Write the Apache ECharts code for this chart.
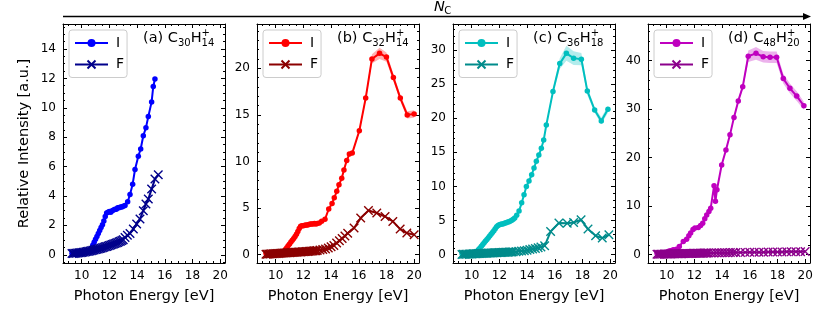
<!DOCTYPE html>
<html><head><meta charset="utf-8">
<script src="https://cdn.jsdelivr.net/npm/echarts@6/dist/echarts.min.js"></script>
<style>html,body{margin:0;padding:0;background:#fff}#c{width:831px;height:312px}</style>
</head><body><div id="c"></div>
<script>
// ---------- DATA ----------
const xTicks = [10, 12, 14, 16, 18, 20];
const eLow = [9.3,9.4,9.5,9.6,9.7,9.8,9.9,10.0,10.1,10.2,10.3,10.4,10.5,10.6,10.7,10.8,10.9,11.0,11.1,11.2,11.3,11.4,11.5,11.6,11.7,11.8,11.9,12.0,12.1,12.2,12.3,12.4,12.5,12.6,12.7,12.8,12.9,13.0];

// (a) C30H14+
const eIaHi = [13.13,13.32,13.49,13.68,13.85,14.09,14.26,14.45,14.64,14.81,15.05,15.17,15.29];
const Ia = [.10,.10,.11,.12,.12,.13,.14, .15,.17,.18,.20,.22,.26,.32,.45,.65,.85, 1.05,1.25,1.45,1.65,1.85,2.05,2.3,2.6,2.85,2.9, 2.95,2.9,3.0,3.05,3.1,3.1,3.2,3.2,3.25,3.25, 3.3,
  3.35,3.6,4.1,4.8,5.8,6.7,7.2,8.1,8.65,9.4,10.4,11.45,11.95];
const errA = [.06,.06,.08,.08,.1,.1,.1,.12,.12,.12,.15,.15,.15];
const eFaHi = [13.13,13.3,13.49,13.73,13.97,14.21,14.45,14.64,14.81,15.05,15.29,15.53];
const Fa = [.08,.09,.10,.11,.12,.13,.14, .15,.17,.18,.20,.22,.24,.26,.28,.30,.32, .35,.37,.40,.42,.45,.48,.51,.54,.57,.60, .63,.66,.70,.73,.77,.80,.84,.88,.92,.97, 1.02,
  1.18,1.32,1.45,1.76,2.1,2.44,3.0,3.46,3.79,4.47,5.15,5.45];

// (b) C32H14+
const eIbHi = [13.15,13.32,13.56,13.83,14.07,14.23,14.41,14.57,14.77,14.93,15.13,15.32,15.53,16.04,16.5,16.95,17.5,18.0,18.5,19.0,19.5,20.0];
const Ib = [.15,.15,.16,.16,.17,.17,.18, .18,.19,.20,.20,.22,.25,.38,.55,.75,.95, 1.15,1.35,1.55,1.75,1.95,2.2,2.5,2.8,3.05,3.1, 3.1,3.15,3.2,3.2,3.25,3.3,3.3,3.3,3.35,3.3, 3.35,
  3.4,3.6,3.8,4.9,5.5,6.1,6.8,7.5,8.2,9.1,10.1,10.8,10.9,13.3,16.8,21.0,21.6,21.2,19.0,16.8,15.0,15.1];
const errB = [.08,.08,.08,.1,.1,.1,.12,.12,.12,.15,.15,.15,.15,.2,.3,.5,.6,.5,.4,.35,.4,.4];
const eFbHi = [13.2,13.4,13.6,13.8,14.0,14.2,14.4,14.6,14.8,15.0,15.2,15.66,16.14,16.7,17.3,17.9,18.46,18.99,19.47,20.0];
const Fb = [.05,.06,.07,.08,.09,.10,.11, .12,.13,.14,.15,.16,.17,.18,.19,.20,.21, .22,.23,.24,.25,.26,.27,.28,.29,.30,.31, .32,.33,.34,.35,.36,.38,.39,.40,.42,.43, .45,
  .5,.55,.62,.72,.85,1.0,1.25,1.5,1.75,2.0,2.3,2.86,3.93,4.75,4.47,4.1,3.57,2.75,2.32,2.14];

// (c) C36H18+
const eIcHi = [13.11,13.25,13.42,13.61,13.78,13.95,14.14,14.33,14.5,14.67,14.85,15.03,15.2,15.39,15.87,16.36,16.84,17.36,17.92,18.35,18.88,19.36,19.84];
const Ic = [.15,.15,.16,.16,.17,.17,.18, .20,.25,.32,.42,.55,.75,1.0,1.25,1.5,1.75, 2.0,2.25,2.5,2.75,3.0,3.25,3.5,3.8,4.1,4.3, 4.4,4.45,4.5,4.55,4.65,4.7,4.8,4.85,4.95,5.05, 5.2,
  5.4,5.8,6.4,7.6,8.8,10.0,10.8,11.7,12.7,13.7,14.6,15.6,16.8,19.0,23.9,28.0,29.5,28.8,28.65,24.0,21.2,19.6,21.3];
const errC = [.1,.1,.1,.1,.12,.12,.12,.15,.15,.15,.15,.2,.2,.25,.4,.8,1.1,1.0,.9,.6,.4,.5,.5];
const eFcHi = [13.2,13.4,13.6,13.8,14.0,14.2,14.4,14.6,14.8,15.0,15.27,15.7,16.3,16.9,17.36,17.9,18.4,18.95,19.43,19.91];
const Fc = [.05,.06,.07,.08,.09,.10,.11, .12,.13,.14,.15,.16,.17,.18,.19,.20,.21, .22,.23,.24,.25,.26,.27,.28,.29,.30,.31, .32,.33,.34,.35,.36,.37,.38,.39,.40,.41, .42,
  .45,.5,.55,.6,.67,.75,.83,.92,1.02,1.12,1.3,3.4,4.64,4.6,4.73,5.12,3.76,2.78,2.44,2.93];

// (d) C48H20+
const eId = [9.3,9.4,9.5,9.6,9.7,9.8,9.9,10.0,10.1,10.2,10.3,10.4,
  10.48,10.7,10.91,11.2,11.44,11.6,11.73,11.9,
  12.04,12.28,12.45,12.6,12.75,12.89,13.05,13.18,13.42,13.52,13.63,13.97,
  14.28,14.57,14.86,15.17,15.49,15.89,16.45,16.97,17.46,17.94,18.42,18.9,19.39,19.91];
const Id = [.3,.3,.3,.3,.3,.3,.35,.5,.65,.75,.8,.85,
  1.0,1.1,1.7,2.74,3.2,3.9,4.46,5.2,
  5.5,5.6,6.0,6.5,7.4,8.2,8.9,9.6,14.2,11.0,13.4,18.5,
  21.6,24.7,28.3,31.7,34.6,40.9,41.5,40.8,40.7,40.7,36.3,34.3,32.7,30.7];
const errD = [.3,.3,.4,.4,.5,1.2,1.3,1.2,1.2,1.2,1.0,1.0,1.0,.8];
const eFdHi = [13.2,13.4,13.6,13.8,14.0,14.2,14.4,14.6,14.8,15.0,15.33,15.67,16.0,16.33,16.67,17.0,17.33,17.67,18.0,18.33,18.67,19.0,19.33,19.67,20.0];
const Fd = [.10,.10,.10,.12,.12,.13,.13, .14,.15,.15,.16,.17,.18,.19,.20,.20,.21, .22,.22,.23,.24,.24,.25,.26,.26,.27,.28, .28,.29,.30,.30,.31,.32,.32,.33,.34,.34, .35,
  .36,.37,.38,.39,.40,.41,.42,.43,.44,.45,.47,.48,.50,.50,.52,.53,.55,.55,.57,.58,.60,.60,.62,.63,.65];

// ---------- LAYOUT ----------
const FONT = '"DejaVu Sans", sans-serif';
const TOP = 24, H = 239, W = 162;
const XMIN = 8.65, XMAX = 20.35;
const XPATH = 'path://M0,0L10,10M10,0L0,10';

const panels = [
  {L: 63,  eI: eLow.concat(eIaHi), I: Ia, band0: 38, err: errA, eF: eLow.concat(eFaHi), F: Fa,
   cI: '#0000ff', cF: '#00008b', ymin: -0.56, ymax: 15.7, ystep: 2, yminor: 4, lab: ['(a) C', '30', 'H', '14']},
  {L: 257, eI: eLow.concat(eIbHi), I: Ib, band0: 38, err: errB, eF: eLow.concat(eFbHi), F: Fb,
   cI: '#ff0000', cF: '#8b0000', ymin: -0.89, ymax: 24.75, ystep: 5, yminor: 5, lab: ['(b) C', '32', 'H', '14']},
  {L: 453, eI: eLow.concat(eIcHi), I: Ic, band0: 38, err: errC, eF: eLow.concat(eFcHi), F: Fc,
   cI: '#00bfbf', cF: '#008b8b', ymin: -1.21, ymax: 33.8, ystep: 5, yminor: 5, lab: ['(c) C', '36', 'H', '18']},
  {L: 648, eI: eId, I: Id, band0: 32, err: errD, eF: eLow.concat(eFdHi), F: Fd,
   cI: '#bf00bf', cF: '#8b008b', ymin: -1.71, ymax: 47.55, ystep: 10, yminor: 5, lab: ['(d) C', '48', 'H', '20']}
];

const fmt = step => v => (Math.abs(v / step - Math.round(v / step)) < 1e-6 ? String(Math.round(v)) : '');
const black = {color: '#000', width: 1};

const grid = [], xAxis = [], yAxis = [], series = [], legend = [], graphic = [];

const cv = document.createElement('canvas').getContext('2d');
function tw(t, size, style) { cv.font = (style ? style + ' ' : '') + size + 'px "DejaVu Sans"'; return cv.measureText(t).width; }

panels.forEach((p, k) => {
  grid.push({left: p.L, top: TOP, width: W, height: H});
  const xBase = {type: 'value', gridIndex: k, min: XMIN, max: XMAX, minInterval: 2, maxInterval: 2,
    axisLine: {show: true, onZero: false, lineStyle: black},
    axisTick: {show: true, inside: true, length: 4, lineStyle: black},
    minorTick: {show: true, splitNumber: 4, length: 2, lineStyle: black},
    splitLine: {show: false}, minorSplitLine: {show: false}};
  xAxis.push(Object.assign({}, xBase, {position: 'bottom',
    axisLabel: {margin: 7, fontSize: 12, color: '#000', fontFamily: FONT, formatter: fmt(2)},
    name: 'Photon Energy [eV]', nameLocation: 'middle', nameGap: 26,
    nameTextStyle: {fontSize: 14.5, color: '#000', fontFamily: FONT}}));
  xAxis.push(Object.assign({}, xBase, {position: 'top', axisLabel: {show: false}}));
  const yBase = {type: 'value', gridIndex: k, min: p.ymin, max: p.ymax, minInterval: p.ystep, maxInterval: p.ystep,
    axisLine: {show: true, onZero: false, lineStyle: black},
    axisTick: {show: true, inside: true, length: 4, lineStyle: black},
    minorTick: {show: true, splitNumber: p.yminor, length: 2, lineStyle: black},
    splitLine: {show: false}, minorSplitLine: {show: false}};
  const yl = Object.assign({}, yBase, {position: 'left',
    axisLabel: {margin: 7, fontSize: 12, color: '#000', fontFamily: FONT, formatter: fmt(p.ystep)}});
  if (k === 0) Object.assign(yl, {name: 'Relative Intensity [a.u.]', nameLocation: 'middle', nameGap: 31,
    nameTextStyle: {fontSize: 14.5, color: '#000', fontFamily: FONT}});
  yAxis.push(yl);
  yAxis.push(Object.assign({}, yBase, {position: 'right', axisLabel: {show: false}}));

  const xi = 2 * k, yi = 2 * k;
  const bx = p.eI.slice(p.band0), bI = p.I.slice(p.band0), er = p.err;
  // shaded uncertainty band, drawn through the axis scales
  series.push({type: 'custom', xAxisIndex: xi, yAxisIndex: yi, silent: true, z: 1, clip: true,
    data: bx.map((e, i) => [e, bI[i] - er[i], bI[i] + er[i]]),
    encode: {x: 0, y: [1, 2]},
    renderItem: (params, api) => {
      if (params.dataIndex !== 0) return null;
      const up = [], dn = [];
      for (let i = 0; i < bx.length; i++) {
        up.push(api.coord([bx[i], bI[i] + er[i]]));
        dn.push(api.coord([bx[i], bI[i] - er[i]]));
      }
      return {type: 'polygon', shape: {points: up.concat(dn.reverse())},
        style: {fill: p.cI, opacity: 0.3}};
    }});
  series.push({name: 'I' + k, type: 'line', xAxisIndex: xi, yAxisIndex: yi, symbol: 'circle', symbolSize: 5.5,
    showAllSymbol: true, lineStyle: {width: 2, color: p.cI}, itemStyle: {color: p.cI},
    data: p.eI.map((e, i) => [e, p.I[i]]), z: 3});
  series.push({name: 'F' + k, type: 'line', xAxisIndex: xi, yAxisIndex: yi, symbol: XPATH, symbolSize: 8.5,
    showAllSymbol: true, lineStyle: {width: 2, color: p.cF},
    itemStyle: {color: p.cF, borderColor: p.cF, borderWidth: 1.4},
    data: p.eF.map((e, i) => [e, p.F[i]]), z: 4});

  legend.push({data: ['I' + k, 'F' + k], formatter: n => n[0], orient: 'vertical', left: p.L + 6, top: 30,
    itemWidth: 33, itemHeight: 10, itemGap: 7.5, padding: [6, 3, 6, 5], selectedMode: false,
    borderColor: '#cccccc', borderWidth: 1, borderRadius: 3, backgroundColor: 'rgba(255,255,255,0.8)',
    textStyle: {fontSize: 14, color: '#000', fontFamily: FONT, padding: [0, 0, 0, 3]}});

  // panel label with sub/superscripts
  const x0 = p.L + 80;
  const w0 = tw(p.lab[0], 14.5), w1 = tw(p.lab[1], 10), w2 = tw(p.lab[2], 14.5);
  const ts = (t, x, y, s) => ({type: 'text', x: x, y: y, silent: true, z: 100,
    style: {text: t, fontSize: s, fontFamily: FONT, fill: '#000', verticalAlign: 'middle', align: 'left'}});
  graphic.push(ts(p.lab[0], x0, 38.5, 14.5));
  graphic.push(ts(p.lab[1], x0 + w0, 43, 10));
  graphic.push(ts(p.lab[2], x0 + w0 + w1, 38.5, 14.5));
  graphic.push(ts(p.lab[3], x0 + w0 + w1 + w2, 43, 10));
  graphic.push(ts('+', x0 + w0 + w1 + w2, 33, 10));
});

// N_C arrow on top
graphic.push({type: 'line', silent: true, shape: {x1: 63, y1: 16.5, x2: 804, y2: 16.5}, style: {stroke: '#000', lineWidth: 1.5}});
graphic.push({type: 'polygon', silent: true, shape: {points: [[811, 16.5], [803, 13], [803, 20]]}, style: {fill: '#000'}});
graphic.push({type: 'text', silent: true, x: 434, y: 7.5, style: {text: 'N', fontSize: 14.5, fontStyle: 'italic', fontFamily: FONT, fill: '#000', verticalAlign: 'middle'}});
graphic.push({type: 'text', silent: true, x: 434 + tw('N', 14.5, 'italic') - 0.5, y: 11, style: {text: 'C', fontSize: 10, fontFamily: FONT, fill: '#000', verticalAlign: 'middle'}});

const chart = echarts.init(document.getElementById('c'), null, {renderer: 'canvas'});
chart.setOption({
  animation: false,
  backgroundColor: '#fff',
  textStyle: {fontFamily: FONT},
  grid, xAxis, yAxis, series, legend, graphic
});
</script>
</body></html>
